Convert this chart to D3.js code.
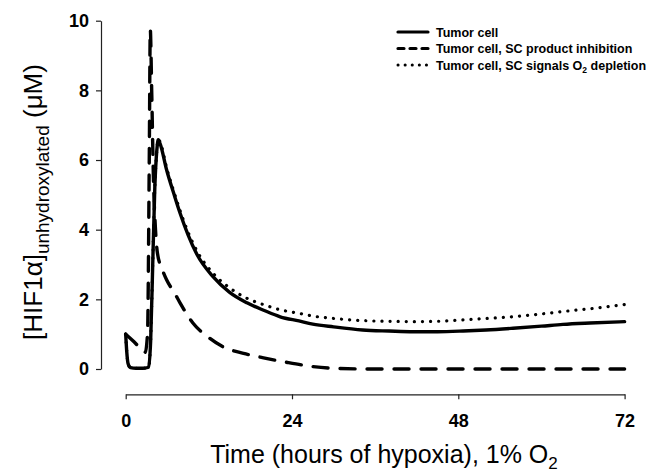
<!DOCTYPE html>
<html>
<head>
<meta charset="utf-8">
<script src="https://cdn.jsdelivr.net/npm/d3@7"></script>
<style>
  body { margin: 0; background: #fff; }
  text { font-family: "Liberation Sans", Arial, sans-serif; fill: #000; }
</style>
</head>
<body>
<div id="chart"></div>
<script>
// data (hours of hypoxia, uM)
var tumorTime = [0, 0.15, 0.35, 0.7, 1.5, 2.5, 3.3, 3.6, 3.9, 4.2, 4.5, 4.7, 5.0, 5.9, 7.0, 7.84, 9.0, 10.25, 12.6, 15, 17.5, 20, 22.3, 25, 27, 30, 34.2, 38, 41.5, 45, 48.7, 52, 55.9, 60, 63.1, 67, 72];
var tumorVal  = [1.0, 0.5, 0.15, 0.04, 0.02, 0.02, 0.05, 0.8, 3.0, 5.2, 6.3, 6.58, 6.45, 5.72, 5.0, 4.48, 3.85, 3.3, 2.65, 2.2, 1.9, 1.68, 1.5, 1.38, 1.29, 1.21, 1.12, 1.09, 1.07, 1.07, 1.09, 1.12, 1.17, 1.23, 1.28, 1.32, 1.36];

var inhibTime = [0, 1.0, 2.0, 2.8, 3.15, 3.4, 3.55, 3.75, 4.0, 4.3, 4.6, 5.2, 5.9, 7.0, 7.84, 9.7, 12, 14.1, 17, 19.9, 23, 27, 30, 35, 72];
var inhibVal  = [1.0, 0.82, 0.62, 0.48, 1.0, 6.0, 9.74, 8.0, 5.5, 4.0, 3.3, 2.9, 2.56, 2.2, 1.9, 1.32, 0.9, 0.63, 0.45, 0.32, 0.2, 0.07, 0.02, 0, 0];

var depleteTime = [0, 0.15, 0.35, 0.7, 1.5, 2.5, 3.3, 3.6, 3.9, 4.2, 4.5, 4.7, 5.0, 5.9, 7.0, 7.84, 9.0, 10.25, 12.6, 15, 17.5, 20, 22.3, 25, 27, 30, 34.2, 38, 41.5, 45, 48.7, 52, 55.9, 60, 63.1, 67, 72];
var depleteVal  = [1.0, 0.5, 0.15, 0.04, 0.02, 0.02, 0.05, 0.8, 3.0, 5.2, 6.3, 6.6, 6.5, 5.78, 5.06, 4.55, 3.93, 3.4, 2.75, 2.33, 2.03, 1.84, 1.7, 1.6, 1.52, 1.45, 1.39, 1.37, 1.36, 1.37, 1.41, 1.45, 1.5, 1.58, 1.65, 1.73, 1.85];

var xTicks = [0, 24, 48, 72];
var yTicks = [0, 2, 4, 6, 8, 10];

var series = [
  {name: "Tumor cell", t: tumorTime, v: tumorVal, dash: null},
  {name: "Tumor cell, SC product inhibition", t: inhibTime, v: inhibVal, dash: "15,12"},
  {name: "Tumor cell, SC signals O", sub: "2", after: " depletion", t: depleteTime, v: depleteVal, dash: "0.1,8"}
];

var width = 655, height = 472;

var svg = d3.select("#chart").append("svg")
  .attr("width", width)
  .attr("height", height);

var x = d3.scaleLinear().domain([0, 72]).range([125.7, 624.6]);
var y = d3.scaleLinear().domain([0, 10]).range([369, 20.7]);

// y axis (detached, SigmaPlot style)
var yAxis = svg.append("g")
  .attr("transform", "translate(101,0)")
  .call(d3.axisLeft(y).tickValues(yTicks).tickSize(5).tickSizeOuter(0).tickPadding(7));
yAxis.selectAll("text").style("font-size", "18px").style("font-weight", "bold")
  .style("font-family", "'Liberation Sans', Arial, sans-serif");

// x axis
var xAxis = svg.append("g")
  .attr("transform", "translate(0,394.3)")
  .call(d3.axisBottom(x).tickValues(xTicks).tickSize(5).tickSizeOuter(0).tickPadding(15));
xAxis.selectAll("text").style("font-size", "18px").style("font-weight", "bold")
  .style("font-family", "'Liberation Sans', Arial, sans-serif");

svg.selectAll(".domain, .tick line").attr("stroke", "#222").attr("stroke-width", 1.2);

// lines
var line = d3.line()
  .x(function(d) { return x(d[0]); })
  .y(function(d) { return y(d[1]); })
  .curve(d3.curveMonotoneX);

series.forEach(function(s) {
  var pts = s.t.map(function(tt, i) { return [tt, s.v[i]]; });
  svg.append("path")
    .datum(pts)
    .attr("d", line)
    .attr("fill", "none")
    .attr("stroke", "#000")
    .attr("stroke-width", s.dash === "0.1,8" ? 3.2 : 3.4)
    .attr("stroke-linecap", "round")
    .attr("stroke-linejoin", "round")
    .attr("stroke-dasharray", s.dash);
});

// legend
var legend = svg.append("g");
series.forEach(function(s, i) {
  var ly = 32 + i * 16.5;
  legend.append("line")
    .attr("x1", 398).attr("x2", 428)
    .attr("y1", ly).attr("y2", ly)
    .attr("stroke", "#000")
    .attr("stroke-width", s.dash === "0.1,8" ? 3 : 3.2)
    .attr("stroke-linecap", "round")
    .attr("stroke-dasharray", s.dash === "15,12" ? "6,6" : (s.dash ? "0.1,7" : null));
  var t = legend.append("text")
    .attr("x", 436).attr("y", ly + 4.5)
    .style("font-size", "12.5px")
    .style("font-weight", "bold")
    .text(s.name);
  if (s.sub) {
    t.append("tspan").attr("dy", 3).style("font-size", "8.5px").text(s.sub);
    t.append("tspan").attr("dy", -3).text(s.after);
  }
});

// axis titles
var xt = svg.append("text")
  .attr("x", 384).attr("y", 463)
  .attr("text-anchor", "middle")
  .style("font-size", "25px")
  .text("Time (hours of hypoxia), 1% O");
xt.append("tspan").attr("dy", 6).style("font-size", "17px").text("2");

var yt = svg.append("text")
  .attr("transform", "translate(42,202) rotate(-90)")
  .attr("text-anchor", "middle")
  .style("font-size", "26px")
  .text("[HIF1α]");
yt.append("tspan").attr("dy", 7).style("font-size", "19px").text("unhydroxylated");
yt.append("tspan").attr("dy", -7).text(" (μM)");
</script>
</body>
</html>
